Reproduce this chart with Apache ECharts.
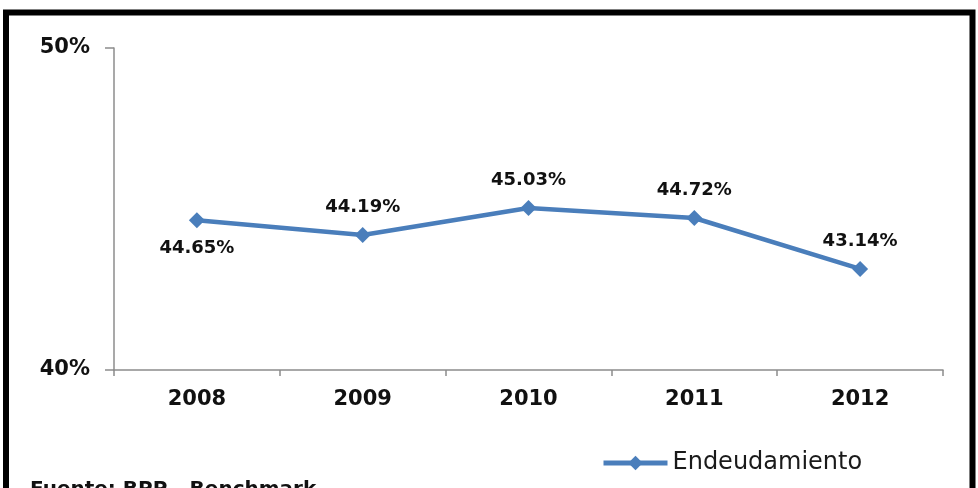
<!DOCTYPE html>
<html>
<head>
<meta charset="utf-8">
<script src="https://cdn.jsdelivr.net/npm/echarts@6/dist/echarts.min.js"></script>
<style>
  html, body { margin: 0; padding: 0; background: #fff; }
  #chart { width: 978px; height: 488px; }
</style>
</head>
<body>
<div id="chart"></div>
<script>
// data
const years = ['2008', '2009', '2010', '2011', '2012']
const endeudamiento = [44.65, 44.19, 45.03, 44.72, 43.14]
const labelBelow = [true, false, false, false, false]
const seriesName = 'Endeudamiento'
const footNote = 'Fuente: BPP - Benchmark'

const blue = '#4a7ebb'
const font = 'DejaVu Sans'

let chart = echarts.init(document.getElementById('chart'))
chart.setOption({
    animation: false,
    grid: { left: 114, right: 35, top: 48, bottom: 118 },
    xAxis: {
        type: 'category',
        data: years,
        boundaryGap: true,
        axisLine: { lineStyle: { color: '#8c8c8c', width: 1.5 } },
        axisTick: { show: true, length: 6, lineStyle: { color: '#8c8c8c', width: 1.5 } },
        axisLabel: { margin: 19, fontFamily: font, fontWeight: 'bold', fontSize: 21, color: '#111' }
    },
    yAxis: {
        type: 'value',
        min: 40,
        max: 50,
        interval: 10,
        axisLine: { show: true, lineStyle: { color: '#8c8c8c', width: 1.5 } },
        axisTick: { show: true, length: 9, lineStyle: { color: '#8c8c8c', width: 1.5 } },
        splitLine: { show: false },
        axisLabel: { formatter: '{value}%', margin: 24, fontFamily: font, fontWeight: 'bold', fontSize: 21, color: '#111' }
    },
    legend: {
        left: 596,
        top: 446,
        itemWidth: 64,
        itemHeight: 18,
        itemGap: 4,
        lineStyle: { width: 5 },
        textStyle: { fontFamily: font, fontSize: 24, color: '#1a1a1a' },
        data: [seriesName]
    },
    series: [{
        name: seriesName,
        type: 'line',
        symbol: 'diamond',
        symbolSize: 16,
        lineStyle: { color: blue, width: 4.5 },
        itemStyle: { color: blue },
        data: endeudamiento.map((v, i) => ({
            value: v,
            label: { position: labelBelow[i] ? 'bottom' : 'top' }
        })),
        label: {
            show: true,
            distance: 11,
            formatter: (p) => p.value.toFixed(2) + '%',
            fontFamily: font,
            fontWeight: 'bold',
            fontSize: 18,
            color: '#111'
        }
    }],
    graphic: [
        {
            type: 'rect',
            shape: { x: 6, y: 12.5, width: 966.5, height: 500 },
            style: { fill: 'none', stroke: '#000', lineWidth: 6 },
            silent: true
        },
        {
            type: 'text',
            left: 30,
            top: 480,
            style: { text: footNote, fontFamily: font, fontWeight: 'bold', fontSize: 20, fill: '#111' }
        }
    ]
})
</script>
</body>
</html>
